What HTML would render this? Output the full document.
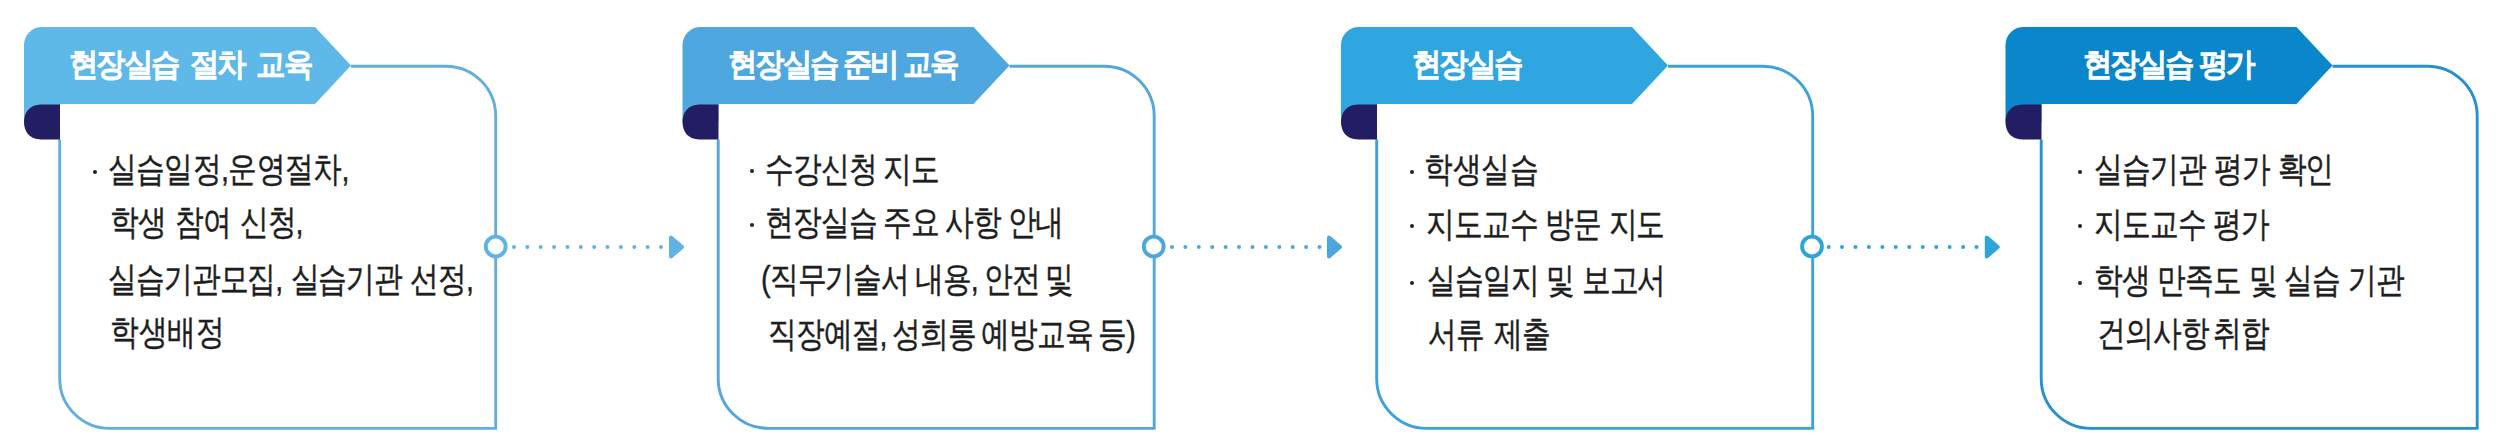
<!DOCTYPE html>
<html><head><meta charset="utf-8"><title>현장실습 운영 절차</title><style>
html,body{margin:0;padding:0;background:#fff;width:2497px;height:436px;overflow:hidden;}
body{position:relative;font-family:"Liberation Sans",sans-serif;}
svg{position:absolute;left:0;top:0;}
.ht{position:absolute;color:#fff;font-weight:normal;font-size:31.5px;line-height:40px;white-space:nowrap;transform-origin:0 0;-webkit-text-stroke:1.6px #fff;}
.bt{position:absolute;color:#1e1e1e;font-size:35px;line-height:40px;white-space:nowrap;transform-origin:0 0;-webkit-text-stroke:0.45px #1e1e1e;}
.dot{position:absolute;width:4px;height:4px;border-radius:50%;background:#222;}
</style></head><body>
<svg width="2497" height="436" viewBox="0 0 2497 436">
<path d="M351,66.2 H445.7 A50,50 0 0 1 495.7,116.2 V428.4 H109.7 A50,50 0 0 1 59.7,378.4 V139.5" fill="none" stroke="#62AEDC" stroke-width="2.9"/>
<path d="M24,45 A18,18 0 0 1 42,27 H315 L351,65.5 L315,104 H60 V122 H24 Z" fill="#5EB8E8"/>
<path d="M60,104.5 V139.5 H41 C29,139.5 24,131 24,122 C24,113 29,104.5 41,104.5 Z" fill="#231E63"/>
<path d="M1009.5,66.2 H1104.2 A50,50 0 0 1 1154.2,116.2 V428.4 H768.2 A50,50 0 0 1 718.2,378.4 V139.5" fill="none" stroke="#55A6DA" stroke-width="2.9"/>
<path d="M682.5,45 A18,18 0 0 1 700.5,27 H973.5 L1009.5,65.5 L973.5,104 H718.5 V122 H682.5 Z" fill="#4EA8DF"/>
<path d="M718.5,104.5 V139.5 H699.5 C687.5,139.5 682.5,131 682.5,122 C682.5,113 687.5,104.5 699.5,104.5 Z" fill="#231E63"/>
<path d="M1668,66.2 H1762.7 A50,50 0 0 1 1812.7,116.2 V428.4 H1426.7 A50,50 0 0 1 1376.7,378.4 V139.5" fill="none" stroke="#3DA2D8" stroke-width="2.9"/>
<path d="M1341,45 A18,18 0 0 1 1359,27 H1632 L1668,65.5 L1632,104 H1377 V122 H1341 Z" fill="#2FA6DF"/>
<path d="M1377,104.5 V139.5 H1358 C1346,139.5 1341,131 1341,122 C1341,113 1346,104.5 1358,104.5 Z" fill="#231E63"/>
<path d="M2332.5,66.2 H2427.2 A50,50 0 0 1 2477.2,116.2 V428.4 H2091.2 A50,50 0 0 1 2041.2,378.4 V139.5" fill="none" stroke="#2990CB" stroke-width="2.9"/>
<path d="M2005.5,45 A18,18 0 0 1 2023.5,27 H2296.5 L2332.5,65.5 L2296.5,104 H2041.5 V122 H2005.5 Z" fill="#0A87CB"/>
<path d="M2041.5,104.5 V139.5 H2022.5 C2010.5,139.5 2005.5,131 2005.5,122 C2005.5,113 2010.5,104.5 2022.5,104.5 Z" fill="#231E63"/>
<circle cx="495.7" cy="246.5" r="9.9" fill="#fff" stroke="#5EB4E4" stroke-width="3.9"/>
<circle cx="514.0" cy="247" r="2" fill="#5EB4E4"/>
<circle cx="527.4" cy="247" r="2" fill="#5EB4E4"/>
<circle cx="540.7" cy="247" r="2" fill="#5EB4E4"/>
<circle cx="554.1" cy="247" r="2" fill="#5EB4E4"/>
<circle cx="567.5" cy="247" r="2" fill="#5EB4E4"/>
<circle cx="580.8" cy="247" r="2" fill="#5EB4E4"/>
<circle cx="594.2" cy="247" r="2" fill="#5EB4E4"/>
<circle cx="607.5" cy="247" r="2" fill="#5EB4E4"/>
<circle cx="620.9" cy="247" r="2" fill="#5EB4E4"/>
<circle cx="634.3" cy="247" r="2" fill="#5EB4E4"/>
<circle cx="647.6" cy="247" r="2" fill="#5EB4E4"/>
<circle cx="661.0" cy="247" r="2" fill="#5EB4E4"/>
<path d="M671,237.5 V256.5 L682,247 Z" fill="#5EB4E4" stroke="#5EB4E4" stroke-width="4" stroke-linejoin="round"/>
<circle cx="1153.7" cy="246.5" r="9.9" fill="#fff" stroke="#4FA6DD" stroke-width="3.9"/>
<circle cx="1172.0" cy="247" r="2" fill="#4FA6DD"/>
<circle cx="1185.4" cy="247" r="2" fill="#4FA6DD"/>
<circle cx="1198.8" cy="247" r="2" fill="#4FA6DD"/>
<circle cx="1212.2" cy="247" r="2" fill="#4FA6DD"/>
<circle cx="1225.6" cy="247" r="2" fill="#4FA6DD"/>
<circle cx="1239.0" cy="247" r="2" fill="#4FA6DD"/>
<circle cx="1252.5" cy="247" r="2" fill="#4FA6DD"/>
<circle cx="1265.9" cy="247" r="2" fill="#4FA6DD"/>
<circle cx="1279.3" cy="247" r="2" fill="#4FA6DD"/>
<circle cx="1292.7" cy="247" r="2" fill="#4FA6DD"/>
<circle cx="1306.1" cy="247" r="2" fill="#4FA6DD"/>
<circle cx="1319.5" cy="247" r="2" fill="#4FA6DD"/>
<path d="M1329,237.5 V256.5 L1340,247 Z" fill="#4FA6DD" stroke="#4FA6DD" stroke-width="4" stroke-linejoin="round"/>
<circle cx="1812" cy="246.5" r="9.9" fill="#fff" stroke="#2FA3DC" stroke-width="3.9"/>
<circle cx="1828.6" cy="247" r="2" fill="#2FA3DC"/>
<circle cx="1842.0" cy="247" r="2" fill="#2FA3DC"/>
<circle cx="1855.5" cy="247" r="2" fill="#2FA3DC"/>
<circle cx="1868.9" cy="247" r="2" fill="#2FA3DC"/>
<circle cx="1882.4" cy="247" r="2" fill="#2FA3DC"/>
<circle cx="1895.8" cy="247" r="2" fill="#2FA3DC"/>
<circle cx="1909.3" cy="247" r="2" fill="#2FA3DC"/>
<circle cx="1922.7" cy="247" r="2" fill="#2FA3DC"/>
<circle cx="1936.2" cy="247" r="2" fill="#2FA3DC"/>
<circle cx="1949.6" cy="247" r="2" fill="#2FA3DC"/>
<circle cx="1963.1" cy="247" r="2" fill="#2FA3DC"/>
<circle cx="1976.5" cy="247" r="2" fill="#2FA3DC"/>
<path d="M1986.8,237.5 V256.5 L1997.7,247 Z" fill="#2FA3DC" stroke="#2FA3DC" stroke-width="4" stroke-linejoin="round"/>
</svg>
<div class="ht" style="left:69.40px;top:44.00px;letter-spacing:-2.318px;word-spacing:6.378px;transform:scaleX(0.9200)">현장실습 절차 교육</div>
<div class="ht" style="left:727.80px;top:44.00px;letter-spacing:-2.318px;word-spacing:-0.499px;transform:scaleX(0.9200)">현장실습 준비 교육</div>
<div class="ht" style="left:1412.00px;top:44.00px;letter-spacing:-2.173px;word-spacing:0.000px;transform:scaleX(0.9200)">현장실습</div>
<div class="ht" style="left:2083.00px;top:44.00px;letter-spacing:-2.173px;word-spacing:-0.022px;transform:scaleX(0.9200)">현장실습 평가</div>
<div class="dot" style="left:92.50px;top:169.70px"></div>
<div class="bt" style="left:107.80px;top:149.20px;letter-spacing:-0.561px;word-spacing:0.000px;transform:scaleX(0.8200)">실습일정,운영절차,</div>
<div class="bt" style="left:109.80px;top:202.00px;letter-spacing:-1.000px;word-spacing:2.439px;transform:scaleX(0.8200)">학생 참여 신청,</div>
<div class="bt" style="left:108.20px;top:259.00px;letter-spacing:-1.000px;word-spacing:1.220px;transform:scaleX(0.8200)">실습기관모집, 실습기관 선정,</div>
<div class="bt" style="left:110.00px;top:311.60px;letter-spacing:0.049px;word-spacing:0.000px;transform:scaleX(0.8200)">학생배정</div>
<div class="dot" style="left:750.00px;top:168.50px"></div>
<div class="bt" style="left:765.00px;top:149.00px;letter-spacing:-1.000px;word-spacing:-1.220px;transform:scaleX(0.8200)">수강신청 지도</div>
<div class="dot" style="left:750.00px;top:222.50px"></div>
<div class="bt" style="left:765.40px;top:202.00px;letter-spacing:-1.000px;word-spacing:-0.813px;transform:scaleX(0.8200)">현장실습 주요 사항 안내</div>
<div class="bt" style="left:761.40px;top:259.00px;letter-spacing:-1.000px;word-spacing:-1.626px;transform:scaleX(0.8200)">(직무기술서 내용, 안전 및</div>
<div class="bt" style="left:768.00px;top:314.00px;letter-spacing:-1.000px;word-spacing:-2.033px;transform:scaleX(0.8200)">직장예절, 성희롱 예방교육 등)</div>
<div class="dot" style="left:1409.70px;top:169.60px"></div>
<div class="bt" style="left:1424.00px;top:148.60px;letter-spacing:-0.154px;word-spacing:0.000px;transform:scaleX(0.8200)">학생실습</div>
<div class="dot" style="left:1409.70px;top:223.80px"></div>
<div class="bt" style="left:1426.20px;top:203.80px;letter-spacing:-1.000px;word-spacing:0.610px;transform:scaleX(0.8200)">지도교수 방문 지도</div>
<div class="dot" style="left:1409.70px;top:280.50px"></div>
<div class="bt" style="left:1427.00px;top:260.00px;letter-spacing:-1.000px;word-spacing:0.610px;transform:scaleX(0.8200)">실습일지 및 보고서</div>
<div class="bt" style="left:1427.80px;top:314.00px;letter-spacing:-1.000px;word-spacing:3.659px;transform:scaleX(0.8200)">서류 제출</div>
<div class="dot" style="left:2077.70px;top:169.70px"></div>
<div class="bt" style="left:2093.60px;top:149.20px;letter-spacing:-1.000px;word-spacing:1.220px;transform:scaleX(0.8200)">실습기관 평가 확인</div>
<div class="dot" style="left:2077.70px;top:223.90px"></div>
<div class="bt" style="left:2093.60px;top:204.40px;letter-spacing:-1.000px;word-spacing:0.000px;transform:scaleX(0.8200)">지도교수 평가</div>
<div class="dot" style="left:2077.70px;top:280.50px"></div>
<div class="bt" style="left:2093.60px;top:260.00px;letter-spacing:-1.000px;word-spacing:0.610px;transform:scaleX(0.8200)">학생 만족도 및 실습 기관</div>
<div class="bt" style="left:2097.40px;top:313.00px;letter-spacing:-1.000px;word-spacing:-3.659px;transform:scaleX(0.8200)">건의사항 취합</div>
</body></html>
